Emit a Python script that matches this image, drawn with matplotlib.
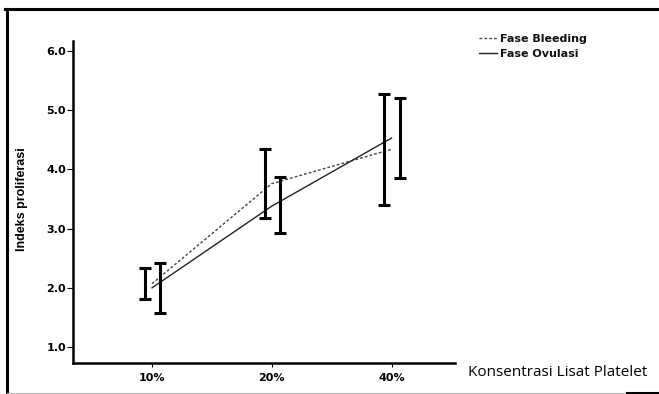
import matplotlib
matplotlib.use('Agg')
import matplotlib.pyplot as plt
from matplotlib.lines import Line2D
import numpy as np

# data
categories = ['10%', '20%', '40%']
bleeding_mean = [2.07, 3.76, 4.34]
bleeding_lo = [1.81, 3.18, 3.40]
bleeding_hi = [2.34, 4.34, 5.28]
ovulasi_mean = [2.00, 3.38, 4.53]
ovulasi_lo = [1.58, 2.92, 3.86]
ovulasi_hi = [2.42, 3.87, 5.20]
yticks = [1.0, 2.0, 3.0, 4.0, 5.0, 6.0]

x = np.arange(len(categories))

fig = plt.figure(figsize=(6.59, 3.94), dpi=100)
ax = fig.add_axes([0.1108, 0.0787, 0.5796, 0.8173])

# mean lines
ax.plot(x, bleeding_mean, color='#444444', linestyle=(0, (2, 1.5)), linewidth=1.0,
        label='Fase Bleeding')
ax.plot(x, ovulasi_mean, color='#222222', linestyle='-', linewidth=1.0,
        label='Fase Ovulasi')

# error bars, shifted a little left / right like SPSS does
b_mean = np.array(bleeding_mean)
o_mean = np.array(ovulasi_mean)
b_err = [b_mean - np.array(bleeding_lo), np.array(bleeding_hi) - b_mean]
o_err = [o_mean - np.array(ovulasi_lo), np.array(ovulasi_hi) - o_mean]
ax.errorbar(x - 0.06, b_mean, yerr=b_err, fmt='none', ecolor='black',
            elinewidth=2.2, capsize=4.5, capthick=2.2)
ax.errorbar(x + 0.07, o_mean, yerr=o_err, fmt='none', ecolor='black',
            elinewidth=2.2, capsize=4.5, capthick=2.2)

ax.set_xlim(-0.66, 2.53)
ax.set_ylim(0.73, 6.17)
ax.set_xticks(x)
ax.set_xticklabels(categories)
ax.set_yticks(yticks)
ax.set_yticklabels(['%.1f' % t for t in yticks])

for s in ['top', 'right']:
    ax.spines[s].set_visible(False)
for s in ['left', 'bottom']:
    ax.spines[s].set_linewidth(1.8)

ax.tick_params(axis='y', length=4.5, width=0.8, pad=0.5)
ax.tick_params(axis='x', length=3, width=0.8, pad=4)
for lab in ax.get_xticklabels() + ax.get_yticklabels():
    lab.set_fontsize(8)
    lab.set_fontweight('bold')
    lab.set_family('DejaVu Sans')

ax.set_ylabel('Indeks proliferasi', fontsize=9, fontweight='bold',
              family=['Liberation Sans Narrow', 'Liberation Sans', 'DejaVu Sans'])
ax.yaxis.set_label_coords(-0.118, 0.51)

ax.set_xlabel('Konsentrasi Lisat Platelet', fontsize=11,
              family=['Open Sans', 'DejaVu Sans'], ha='left', va='center')
ax.xaxis.set_label_coords(1.034, -0.031)

leg = ax.legend(loc='upper left', bbox_to_anchor=(1.052, 1.035), frameon=False,
                prop={'family': 'DejaVu Sans', 'weight': 'bold', 'size': 8},
                handlelength=1.6, handletextpad=0.3, labelspacing=0.45,
                borderaxespad=0)
for t in leg.get_texts():
    t.set_color('#111111')

# outer frame of the scanned figure
fig.add_artist(Line2D([5 / 659, 1], [1 - 8.5 / 394, 1 - 8.5 / 394],
                      transform=fig.transFigure, color='black', linewidth=2.2))
fig.add_artist(Line2D([7 / 659, 7 / 659], [0, 1 - 8.5 / 394],
                      transform=fig.transFigure, color='black', linewidth=2.2))
fig.add_artist(Line2D([7 / 659, 627 / 659], [1.5 / 394, 1.5 / 394],
                      transform=fig.transFigure, color='#bbbbbb', linewidth=0.8))
fig.add_artist(Line2D([627 / 659, 1], [1 / 394, 1 / 394],
                      transform=fig.transFigure, color='black', linewidth=1.5))

fig.savefig('out.png', dpi=100)
